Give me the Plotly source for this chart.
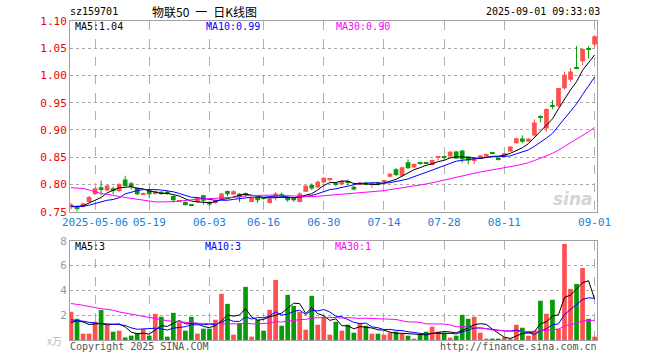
import numpy as np
import pandas as pd
import plotly.graph_objects as go

# ---------------- data ----------------
holidays = ["2025-05-01", "2025-05-02", "2025-05-05", "2025-06-02"]
dates = [d.strftime("%Y-%m-%d") for d in pd.bdate_range("2025-04-25", "2025-09-01")
         if d.strftime("%Y-%m-%d") not in holidays]

open_ = [0.759, 0.760, 0.759, 0.768, 0.782, 0.795, 0.789, 0.793, 0.788, 0.809,
         0.802, 0.794, 0.782, 0.7895, 0.783, 0.7865, 0.7865, 0.779, 0.769, 0.768,
         0.7625, 0.768, 0.780, 0.768, 0.766, 0.773, 0.788, 0.7815, 0.783, 0.7817,
         0.768, 0.777, 0.7745, 0.766, 0.7755, 0.7815, 0.777, 0.7755, 0.768, 0.7865,
         0.799, 0.7945, 0.8037, 0.809, 0.803, 0.8006, 0.8043, 0.7957, 0.8006, 0.8037,
         0.7988, 0.8043, 0.8055, 0.8142, 0.8278, 0.816, 0.8407, 0.8309, 0.8382, 0.8392,
         0.8358, 0.8495, 0.8502, 0.8512, 0.8604, 0.8623, 0.8512, 0.8445, 0.8482, 0.8512,
         0.8570, 0.8465, 0.8512, 0.8604, 0.8757, 0.8845, 0.8788, 0.890, 0.9225, 0.9025,
         0.9442, 0.9435, 0.9765, 0.992, 1.0138, 1.026, 1.0478, 1.0568]
high = [0.766, 0.762, 0.767, 0.779, 0.794, 0.807, 0.799, 0.796, 0.802, 0.816,
        0.805, 0.795, 0.785, 0.7925, 0.789, 0.788, 0.788, 0.780, 0.771, 0.769,
        0.764, 0.777, 0.781, 0.769, 0.772, 0.7845, 0.789, 0.790, 0.784, 0.785,
        0.777, 0.778, 0.776, 0.776, 0.786, 0.7853, 0.778, 0.776, 0.786, 0.799,
        0.802, 0.807, 0.813, 0.811, 0.804, 0.808, 0.809, 0.797, 0.805, 0.805,
        0.803, 0.805, 0.807, 0.821, 0.830, 0.833, 0.846, 0.839, 0.840, 0.840,
        0.846, 0.850, 0.851, 0.862, 0.8616, 0.863, 0.852, 0.849, 0.854, 0.857,
        0.858, 0.848, 0.858, 0.870, 0.886, 0.890, 0.885, 0.9195, 0.927, 0.940,
        0.955, 0.977, 1.007, 1.0136, 1.054, 1.0495, 1.054, 1.074]
low = [0.754, 0.750, 0.758, 0.767, 0.781, 0.780, 0.788, 0.782, 0.786, 0.796,
       0.791, 0.780, 0.781, 0.775, 0.781, 0.781, 0.781, 0.767, 0.768, 0.762,
       0.760, 0.766, 0.763, 0.761, 0.765, 0.772, 0.778, 0.781, 0.7675, 0.7767,
       0.767, 0.766, 0.772, 0.765, 0.7705, 0.7755, 0.768, 0.768, 0.767, 0.786,
       0.790, 0.794, 0.803, 0.805, 0.797, 0.800, 0.799, 0.789, 0.800, 0.799,
       0.794, 0.800, 0.800, 0.813, 0.815, 0.815, 0.829, 0.830, 0.836, 0.838,
       0.835, 0.844, 0.845, 0.851, 0.847, 0.840, 0.837, 0.837, 0.847, 0.850,
       0.855, 0.844, 0.850, 0.8598, 0.875, 0.876, 0.878, 0.888, 0.914, 0.897,
       0.938, 0.942, 0.974, 0.988, 1.0130, 1.019, 1.031, 1.053]
close = [0.763, 0.755, 0.765, 0.777, 0.793, 0.790, 0.798, 0.788, 0.801, 0.797,
         0.796, 0.782, 0.7835, 0.782, 0.788, 0.7825, 0.7825, 0.771, 0.7695, 0.762,
         0.762, 0.7755, 0.770, 0.763, 0.771, 0.7835, 0.782, 0.7875, 0.777, 0.7812,
         0.7755, 0.771, 0.774, 0.774, 0.7835, 0.779, 0.771, 0.771, 0.7835, 0.7975,
         0.7925, 0.805, 0.8123, 0.8093, 0.799, 0.806, 0.8037, 0.7907, 0.8037, 0.800,
         0.8025, 0.8012, 0.806, 0.8198, 0.8173, 0.8315, 0.8296, 0.8377, 0.8378, 0.8388,
         0.845, 0.8498, 0.8498, 0.860, 0.8476, 0.8463, 0.8439, 0.848, 0.8531, 0.8561,
         0.8565, 0.846, 0.8574, 0.8696, 0.885, 0.8785, 0.8837, 0.9136, 0.922, 0.9383,
         0.9438, 0.977, 1.0012, 1.0074, 1.0136, 1.0485, 1.0475, 1.0722]
volume = [2.27, 1.71, 0.51, 0.51, 1.47, 2.41, 1.20, 0.67, 0.75, 0.21,
          0.35, 0.56, 0.88, 0.35, 2.11, 1.87, 0.27, 2.19, 1.42, 0.75,
          1.87, 0.51, 0.91, 0.91, 1.63, 3.72, 2.91, 0.43, 1.36, 4.28,
          0.27, 1.63, 0.75, 2.43, 4.84, 1.15, 3.64, 2.75, 2.27, 0.83,
          3.56, 1.23, 1.85, 0.43, 1.47, 0.75, 1.23, 0.59, 1.36, 1.15,
          0.51, 0.51, 0.43, 0.59, 0.67, 0.51, 0.35, 0.11, 0.43, 0.67,
          1.07, 0.67, 0.59, 0.19, 0.35, 2.03, 1.71, 1.87, 0.59, 0.11,
          0.11, 0.11, 0.21, 0.08, 1.23, 0.99, 0.35, 0.75, 3.16, 2.11,
          3.24, 0.91, 7.73, 4.12, 4.52, 5.80, 1.71, 0.27]

# moving-average values at the start of the window (history before the chart)
ma5_head = [0.760, 0.7595, 0.761, 0.766]
ma10_head = [0.759, 0.759, 0.760, 0.762, 0.765, 0.768, 0.771, 0.7724, 0.7755]
ma30_head = [0.794, 0.7935, 0.7925, 0.790, 0.7865, 0.7835, 0.782, 0.7806, 0.778, 0.776,
             0.7745, 0.773, 0.7715, 0.769, 0.768, 0.768, 0.768, 0.7685, 0.7694, 0.771,
             0.772, 0.773, 0.7735, 0.774, 0.7743, 0.775, 0.776, 0.7765, 0.777]
vma5_head = [1.40, 1.55, 1.45, 1.25]
vma10_head = [1.62, 1.60, 1.52, 1.42, 1.36, 1.32, 1.30, 1.28, 1.24]
vma30_head = [2.94, 2.88, 2.80, 2.70, 2.60, 2.52, 2.47, 2.40, 2.26, 2.17,
              2.05, 2.00, 1.92, 1.78, 1.68, 1.60, 1.55, 1.50, 1.45, 1.40,
              1.37, 1.35, 1.33, 1.32, 1.31, 1.30, 1.29, 1.29, 1.30]

tick_dates = ["2025-05-06", "2025-05-19", "2025-06-03", "2025-06-16", "2025-06-30",
              "2025-07-14", "2025-07-28", "2025-08-11", "2025-09-01"]
tick_text = ["2025-05-06", "05-19", "06-03", "06-16", "06-30", "07-14", "07-28", "08-11", "09-01"]
price_ticks = [0.75, 0.80, 0.85, 0.90, 0.95, 1.00, 1.05, 1.10]
vol_ticks = [2, 4, 6, 8]

code = "sz159701"
title = "物联50\u2002一\u2002日K线图"
stamp = "2025-09-01 09:33:03"
ma_price_labels = ["MA5:1.04", "MA10:0.99", "MA30:0.90"]
ma_vol_labels = ["MA5:3", "MA10:3", "MA30:1"]

# ---------------- derived ----------------
n = len(close)
idx = np.arange(n)


def moving(vals, w, head):
    m = pd.Series(vals).rolling(w).mean().to_numpy()
    m[:len(head)] = head
    return m


ma5 = moving(close, 5, ma5_head)
ma10 = moving(close, 10, ma10_head)
ma30 = moving(close, 30, ma30_head)
vma5 = moving(volume, 5, vma5_head)
vma10 = moving(volume, 10, vma10_head)
vma30 = moving(volume, 30, vma30_head)

RED = "#ff5050"
GREEN = "#089b08"
up = [c >= o for o, c in zip(open_, close)]
colors = [RED if u else GREEN for u in up]
body_base = [min(o, c) for o, c in zip(open_, close)]
body_h = [max(abs(c - o), 0.0019) for o, c in zip(open_, close)]

fig = go.Figure()

# wicks
for is_up, col in [(True, RED), (False, GREEN)]:
    wx, wy = [], []
    for i in range(n):
        if up[i] == is_up:
            wx += [i, i, None]
            wy += [low[i], high[i], None]
    fig.add_trace(go.Scatter(x=wx, y=wy, mode="lines", line=dict(color=col, width=1),
                             hoverinfo="skip", showlegend=False, xaxis="x", yaxis="y"))

# bodies
fig.add_trace(go.Bar(x=idx, y=body_h, base=body_base, marker=dict(color=colors, line=dict(width=0)),
                     width=0.78, showlegend=False, xaxis="x", yaxis="y"))

# price MAs
for m, col in [(ma5, "#000000"), (ma10, "#0000ff"), (ma30, "#ff00ff")]:
    fig.add_trace(go.Scatter(x=idx, y=m, mode="lines", line=dict(color=col, width=1),
                             showlegend=False, xaxis="x", yaxis="y"))

# volume
fig.add_trace(go.Bar(x=idx, y=volume, marker=dict(color=colors, line=dict(width=0)),
                     width=0.78, showlegend=False, xaxis="x2", yaxis="y2"))
for m, col in [(vma5, "#000000"), (vma10, "#0000ff"), (vma30, "#ff00ff")]:
    fig.add_trace(go.Scatter(x=idx, y=m, mode="lines", line=dict(color=col, width=1),
                             showlegend=False, xaxis="x2", yaxis="y2"))

tick_idx = [dates.index(d) for d in tick_dates]

L, R, T, B = 70, 597, 21, 340
W, H = 660, 360


def px(x):
    return (x - L) / (R - L)


def py(y):
    return (B - y) / (B - T)


MONO = "DejaVu Sans Mono"
xr = [-0.17, 87.4]
axis_common = dict(showline=True, mirror=True, linecolor="#a0a0a0", linewidth=1, zeroline=False)

fig.update_layout(
    width=W, height=H,
    margin=dict(l=L, r=W - R, t=T, b=H - B, pad=0, autoexpand=False),
    paper_bgcolor="white", plot_bgcolor="white",
    barmode="overlay", showlegend=False, hovermode=False,
    xaxis=dict(domain=[0, 1], range=xr, anchor="y", tickvals=tick_idx, ticktext=tick_text,
               showgrid=True, gridcolor="#b0b0b0", griddash="dash", gridwidth=1,
               ticks="", tickfont=dict(family=MONO, size=11, color="#1a80d8"), **axis_common),
    yaxis=dict(domain=[py(211.7), 1], range=[0.75, 1.10], anchor="x", tickvals=price_ticks,
               ticktext=[f"{v:.2f}" for v in price_ticks],
               showgrid=True, gridcolor="#a8a8a8", griddash="dot", gridwidth=1,
               ticks="", tickfont=dict(family=MONO, size=11, color="#ee0000"), **axis_common),
    xaxis2=dict(domain=[0, 1], range=xr, anchor="y2", tickvals=tick_idx, showticklabels=False,
                showgrid=True, gridcolor="#b0b0b0", griddash="dash", gridwidth=1,
                ticks="", **axis_common),
    yaxis2=dict(domain=[0, py(240.7)], range=[0, 8], anchor="x2", tickvals=vol_ticks,
                ticktext=[str(v) for v in vol_ticks],
                showgrid=True, gridcolor="#a8a8a8", griddash="dot", gridwidth=1,
                ticks="", tickfont=dict(family=MONO, size=11, color="#999999"), **axis_common),
)

ann = []


def text(x, y, s, color="#000000", anchor="left", size=10, family=MONO, **kw):
    ann.append(dict(x=px(x), y=py(y), xref="paper", yref="paper", text=s, showarrow=False,
                    xanchor=anchor, yanchor="middle", borderpad=0,
                    font=dict(family=family, size=size, color=color), **kw))


text(69, 12, code, size=10)
text(151, 12, title, size=12, family="Noto Sans CJK SC")
text(601, 12, stamp, anchor="right", size=10)
for s, x, c in zip(ma_price_labels, [74, 205, 335], ["#000000", "#0000ff", "#ff00ff"]):
    text(x, 27, s, color=c)
for s, x, c in zip(ma_vol_labels, [74, 204, 334], ["#000000", "#0000ff", "#ff00ff"]):
    text(x, 246, s, color=c)
text(69, 346, "Copyright 2025 SINA.COM", color="#555555")
text(598, 346, "http://finance.sina.com.cn", color="#555555", anchor="right")
text(63, 341, "x万", color="#bbbbbb", anchor="right", size=10, family="Noto Sans CJK SC")
text(594, 199, "<b><i>sina</i></b>", color="#d4d4d4", anchor="right", size=17, family="DejaVu Sans")
fig.update_layout(annotations=ann)

fig.write_html(
    "out.html",
    config={"displayModeBar": False},
    post_script="document.body.style.margin='0';document.documentElement.style.overflow='hidden';",
)
